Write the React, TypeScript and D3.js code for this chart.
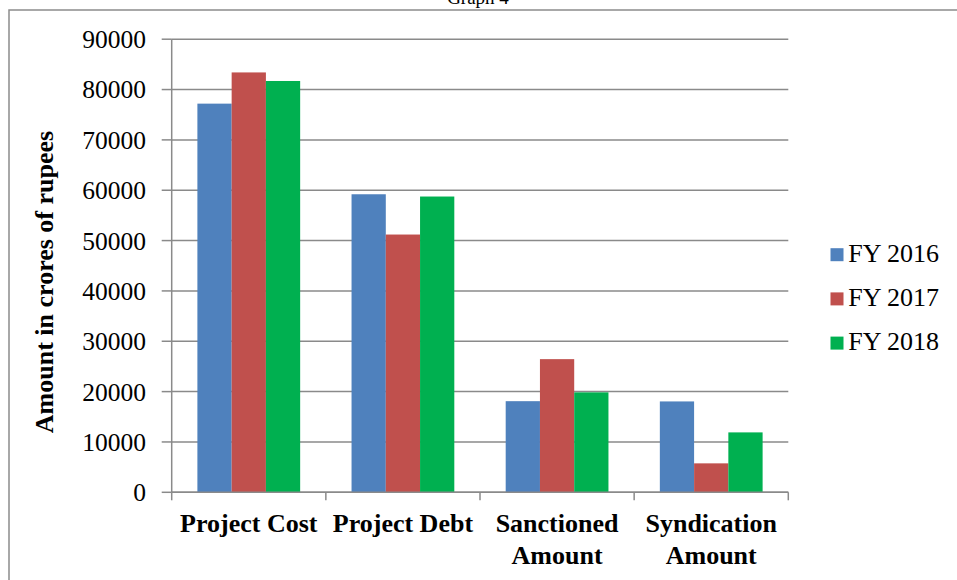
import React from "react";
import * as d3 from "d3";

// Categories, series and values for Graph 4
const categories: string[][] = [
  ["Project Cost"],
  ["Project Debt"],
  ["Sanctioned", "Amount"],
  ["Syndication", "Amount"],
];
const categoryKeys = ["Project Cost", "Project Debt", "Sanctioned Amount", "Syndication Amount"];
const seriesNames = ["FY 2016", "FY 2017", "FY 2018"];
const fy2016 = [77200, 59200, 18100, 18050];
const fy2017 = [83400, 51200, 26450, 5750];
const fy2018 = [81700, 58750, 19850, 11900];
const seriesValues = [fy2016, fy2017, fy2018];
const seriesColors = ["#4F81BD", "#C0504D", "#00B050"];
const yTicks = [0, 10000, 20000, 30000, 40000, 50000, 60000, 70000, 80000, 90000];

const W = 957;
const H = 580;
const FONT = "'Liberation Serif', 'Times New Roman', serif";

export default function App() {
  const left = 171.7;
  const right = 788.3;
  const top = 39.2;
  const bottom = 492.3;

  const x = d3.scaleBand<string>().domain(categoryKeys).range([left, right]).padding(0);
  const xs = d3
    .scaleBand<string>()
    .domain(seriesNames)
    .range([0, x.bandwidth()])
    .paddingInner(0)
    .paddingOuter(0.75);
  const y = d3.scaleLinear().domain([0, 90000]).range([bottom, top]);

  const gridColor = "#8a8a8a";

  return (
    <svg
      width={W}
      height={H}
      style={{ position: "fixed", left: 0, top: 0, background: "#fff" }}
      fontFamily={FONT}
    >
      <rect x={0} y={0} width={W} height={H} fill="#fff" />
      {/* title, clipped by the page top */}
      <text x={478} y={3.5} fontSize={19} textAnchor="middle" fill="#000">
        Graph 4
      </text>
      {/* chart frame */}
      <rect x={9} y={10} width={1200} height={1200} fill="none" stroke="#8c8c8c" strokeWidth={1.5} />

      {/* gridlines */}
      {yTicks.map((t) => (
        <line key={t} x1={left} x2={right} y1={y(t)} y2={y(t)} stroke={gridColor} strokeWidth={1.5} />
      ))}

      {/* bars */}
      {seriesNames.map((s, si) =>
        categoryKeys.map((c, ci) => {
          const v = seriesValues[si][ci];
          return (
            <rect
              key={s + c}
              x={(x(c) as number) + (xs(s) as number)}
              y={y(v)}
              width={xs.bandwidth()}
              height={y(0) - y(v)}
              fill={seriesColors[si]}
            />
          );
        })
      )}

      {/* y axis */}
      <line x1={left} x2={left} y1={top} y2={bottom} stroke={gridColor} strokeWidth={1.5} />
      {yTicks.map((t) => (
        <g key={"yt" + t}>
          <line x1={left - 10} x2={left} y1={y(t)} y2={y(t)} stroke={gridColor} strokeWidth={1.5} />
          <text x={146} y={y(t)} dy="0.35em" fontSize={25.5} textAnchor="end" fill="#000">
            {t}
          </text>
        </g>
      ))}

      {/* x axis */}
      <line x1={left} x2={right} y1={bottom} y2={bottom} stroke={gridColor} strokeWidth={1.5} />
      {[...categoryKeys.map((c) => x(c) as number), right].map((px, i) => (
        <line key={"xt" + i} x1={px} x2={px} y1={bottom} y2={bottom + 8} stroke={gridColor} strokeWidth={1.5} />
      ))}
      {categories.map((lines, ci) => {
        const cx = (x(categoryKeys[ci]) as number) + x.bandwidth() / 2;
        return (
          <text key={"cl" + ci} x={cx} y={532} fontSize={26} fontWeight="bold" textAnchor="middle" fill="#000">
            {lines.map((l, li) => (
              <tspan key={li} x={cx} dy={li === 0 ? 0 : 31.5}>
                {l}
              </tspan>
            ))}
          </text>
        );
      })}

      {/* y axis title */}
      <text
        transform="translate(52.5,282) rotate(-90)"
        fontSize={26}
        fontWeight="bold"
        textAnchor="middle"
        fill="#000"
      >
        Amount in crores of rupees
      </text>

      {/* legend */}
      {seriesNames.map((s, i) => (
        <g key={"lg" + s} transform={`translate(0, ${261.7 + i * 44.2})`}>
          <rect x={830.5} y={-13.5} width={13} height={13} fill={seriesColors[i]} />
          <text x={848.3} y={0} fontSize={26} fill="#000">
            {s}
          </text>
        </g>
      ))}
    </svg>
  );
}
